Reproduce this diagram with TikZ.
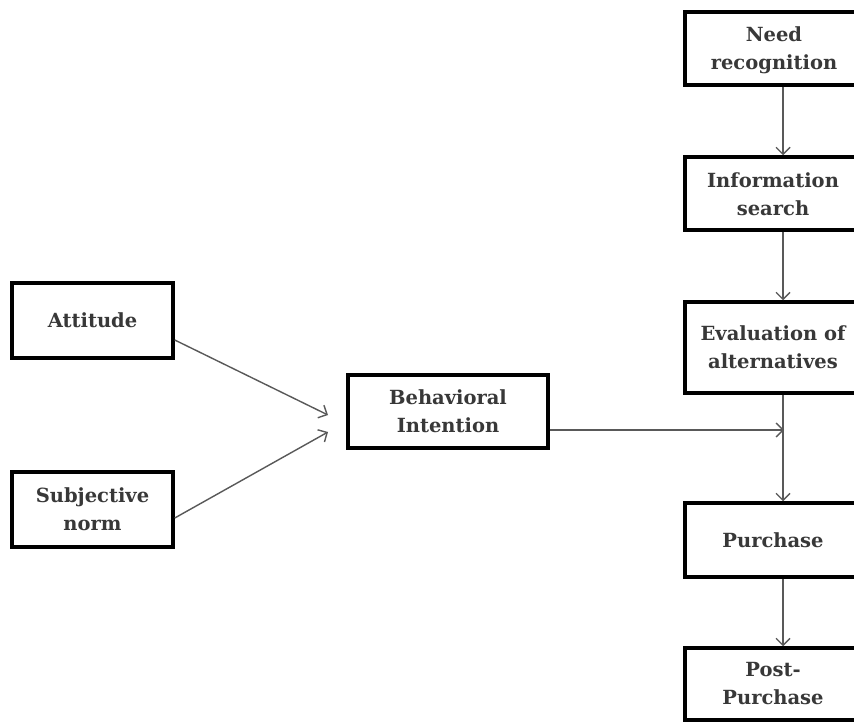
\documentclass[tikz,border=0pt]{standalone}
\usepackage{fontspec}
\setmainfont{DejaVu Serif}
\usetikzlibrary{arrows.meta}
\begin{document}
\begin{tikzpicture}[x=1pt,y=-1pt,
  box/.style={draw=black, line width=3.5pt, fill=white, inner sep=0pt, align=center,
    text=black!78, font=\fontsize{19.5}{28}\selectfont\bfseries},
  conn/.style={draw=black!65, line width=1.4pt, -{Straight Barb[length=7pt,width=14pt,line width=1.4pt]}}
]
\useasboundingbox (0,0) rectangle (854,722);
\clip (0,0) rectangle (854,722);
\fill[white] (0,0) rectangle (854,722);
% right column
\node[box, minimum width=196pt, minimum height=73pt] (need) at (783,48.5) {};
\node[box, minimum width=196pt, minimum height=73pt] (info) at (783,193.5) {};
\node[box, minimum width=196pt, minimum height=91pt] (eval) at (783,347.5) {};
\node[box, minimum width=196pt, minimum height=74pt] (purch) at (783,540) {};
\node[box, minimum width=196pt, minimum height=72pt] (post) at (783,684) {};
% left
\node[box, minimum width=161pt, minimum height=75pt] (att) at (92.5,320.5) {Attitude};
\node[box, minimum width=161pt, minimum height=75pt] (subj) at (92.5,509.5) {Subjective\\norm};
\node[box, minimum width=200pt, minimum height=73pt] (bi) at (448,411.5) {Behavioral\\Intention};
% texts of clipped boxes (centred on visible part)
\node[box, draw=none, fill=none] (needt) at (774,50) {Need\\recognition};
\node[box, draw=none, fill=none] (infot) at (773,194) {Information\\search};
\node[box, draw=none, fill=none] (evalt) at (773,347.5) {Evaluation of\\alternatives};
\node[box, draw=none, fill=none] (purcht) at (773,540) {Purchase};
\node[box, draw=none, fill=none] (postt) at (773,684) {Post-\\Purchase};
% coordinates
\coordinate (tip1) at (328,415);
\coordinate (tip2) at (328,432);
\coordinate (join) at (784,430);
% connectors
\draw[conn] (need) -- (info);
\draw[conn] (info) -- (eval);
\draw[conn] (eval) -- (purch);
\draw[conn] (purch) -- (post);
\draw[conn] ([yshift=-19.5pt]att.east) -- (tip1);
\draw[conn] ([yshift=-8.5pt]subj.east) -- (tip2);
\draw[conn] ([yshift=-18.5pt]bi.east) -- (join);
\end{tikzpicture}
\end{document}
